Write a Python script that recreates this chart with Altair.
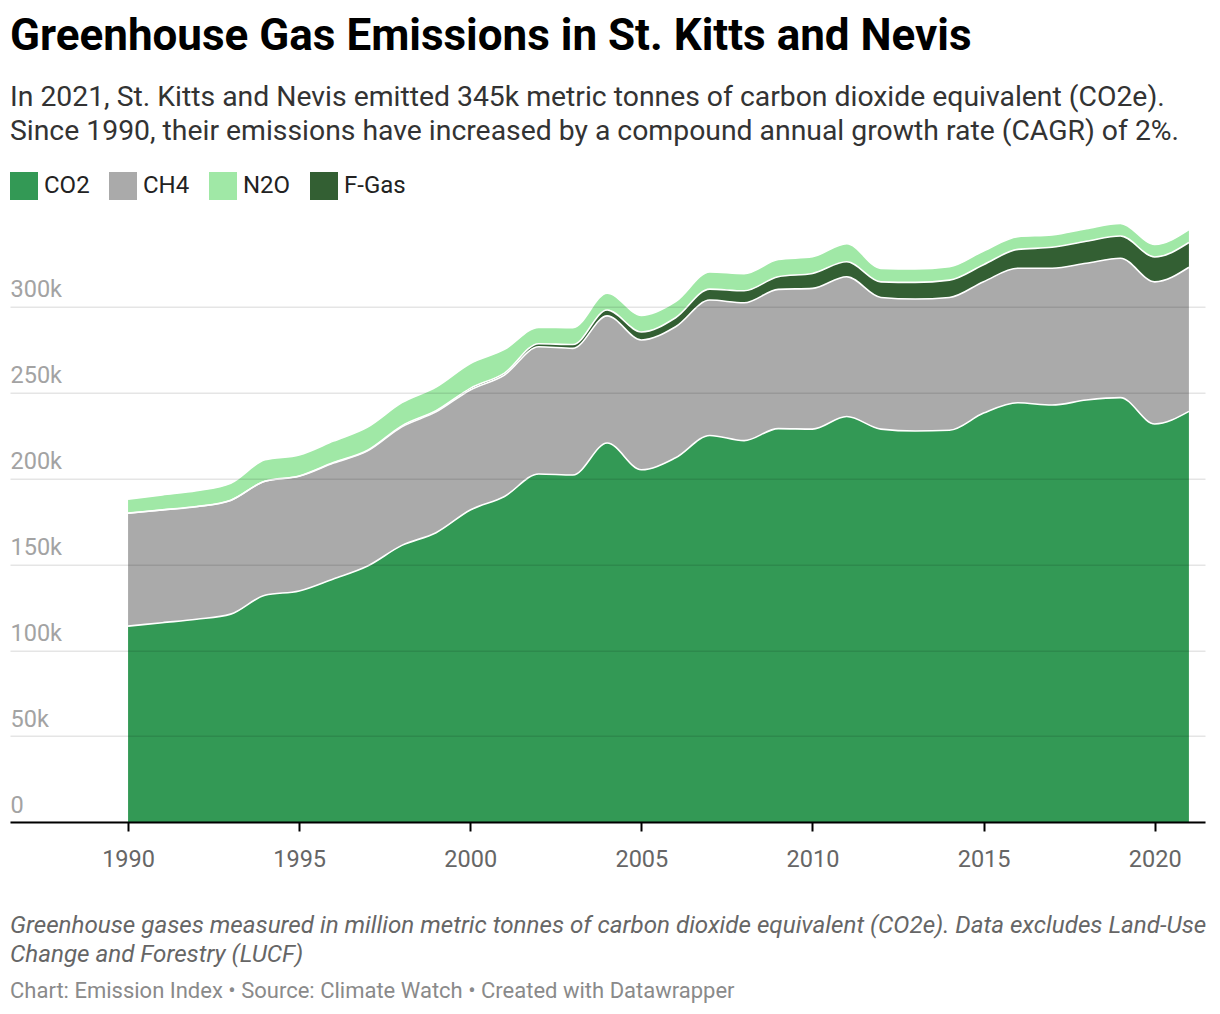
import altair as alt
import pandas as pd

# ---- data (thousand tonnes CO2e) ----
years = list(range(1990, 2022))
co2 = [114.0, 116.0, 118.0, 121.0, 132.0, 134.5, 141.5, 149.0, 161.0, 168.4, 181.6, 189.5,
       202.6, 202.0, 220.6, 205.0, 212.0, 225.0, 222.0, 229.0, 228.7, 236.0, 228.7, 227.6,
       228.0, 238.0, 244.0, 242.7, 245.6, 247.0, 231.7, 239.0]
ch4 = [65.7, 65.6, 65.5, 66.2, 66.3, 66.7, 67.4, 67.0, 69.0, 70.3, 69.9, 70.7,
       74.0, 73.7, 74.0, 75.6, 76.3, 78.8, 80.2, 81.0, 81.9, 81.4, 76.6, 76.8,
       77.3, 76.5, 78.3, 79.6, 79.6, 81.1, 82.7, 83.9]
n2o = [8.1, 8.7, 9.2, 9.9, 12.4, 12.2, 12.5, 13.5, 13.5, 13.8, 14.5, 13.8,
       9.5, 9.8, 9.8, 9.7, 9.4, 10.0, 10.0, 10.0, 9.7, 10.5, 7.8, 7.8,
       7.8, 8.0, 7.4, 7.2, 7.3, 7.3, 7.3, 7.5]
fgas = [0.1, 0.1, 0.1, 0.1, 0.1, 0.2, 0.3, 0.4, 0.6, 0.7, 0.9, 1.1,
        1.8, 2.2, 3.4, 4.6, 5.2, 6.4, 7.0, 7.4, 8.7, 8.7, 9.1, 9.7,
        10.1, 9.9, 11.0, 12.2, 12.8, 13.0, 14.5, 14.4]

gases = ["CO2", "CH4", "N2O", "F-Gas"]
gas_colors = ["#339955", "#aaaaaa", "#a0e8a6", "#335f33"]
stack_rank = {"CO2": 0, "CH4": 1, "F-Gas": 2, "N2O": 3}

x_ticks = [1990, 1995, 2000, 2005, 2010, 2015, 2020]
y_ticks = [0, 50000, 100000, 150000, 200000, 250000, 300000]

title_text = "Greenhouse Gas Emissions in St. Kitts and Nevis"
subtitle_1 = "In 2021, St. Kitts and Nevis emitted 345k metric tonnes of carbon dioxide equivalent (CO2e)."
subtitle_2 = "Since 1990, their emissions have increased by a compound annual growth rate (CAGR) of 2%."
note_1 = "Greenhouse gases measured in million metric tonnes of carbon dioxide equivalent (CO2e). Data excludes Land-Use"
note_2 = "Change and Forestry (LUCF)"
source_text = "Chart: Emission Index \u2022 Source: Climate Watch \u2022 Created with Datawrapper"

rows = []
for g, vals in zip(gases, [co2, ch4, n2o, fgas]):
    for yr, v in zip(years, vals):
        rows.append({"year": yr, "gas": g, "value": v * 1000, "rank": stack_rank[g]})
df = pd.DataFrame(rows)

FONT = "Roboto"
W, H = 1195, 601.3

x_enc = alt.X(
    "year:Q",
    scale=alt.Scale(domain=[1986.55, 2021.47], nice=False, zero=False),
    axis=alt.Axis(values=x_ticks, format="d", title=None, grid=False,
                  domainColor="#000", domainWidth=2, tickColor="#000", tickWidth=2,
                  tickSize=9, labelFontSize=23.5, labelColor="#666666", labelFont=FONT,
                  labelPadding=35, labelBaseline="alphabetic", labelFlush=False, zindex=1),
)
y_enc = alt.Y(
    "top:Q",
    scale=alt.Scale(domain=[0, 350000], nice=False),
    axis=alt.Axis(values=y_ticks, title=None, domain=False, ticks=False,
                  labelExpr="datum.value == 0 ? '0' : format(datum.value / 1000, 'd') + 'k'",
                  tickSize=0, labelPadding=0, labelAlign="left", labelBaseline="alphabetic",
                  labelOffset=-10, labelFontSize=23.5, labelColor="#a3a3a3", labelFont=FONT,
                  gridColor="#000000", gridOpacity=0.1, gridWidth=1.5, zindex=1),
)

base = alt.Chart(df).transform_window(
    top="sum(value)", sort=[alt.SortField("rank")], groupby=["year"], frame=[None, 0]
).transform_calculate(bottom="datum.top - datum.value")

areas = base.mark_area(interpolate="monotone", opacity=1).encode(
    x=x_enc,
    y=y_enc,
    y2="bottom:Q",
    color=alt.Color(
        "gas:N",
        scale=alt.Scale(domain=gases, range=gas_colors),
        legend=alt.Legend(orient="none", legendX=0, legendY=-48.7, direction="horizontal",
                          title=None, symbolType="square", symbolSize=784,
                          symbolStrokeWidth=0, symbolOpacity=1, labelFontSize=24,
                          labelFont=FONT, labelColor="#222222", labelOffset=6,
                          columnPadding=19, padding=0, offset=0),
    ),
)

lines = base.mark_line(interpolate="monotone", color="white", strokeWidth=1.6).encode(
    x=x_enc, y=y_enc, detail="gas:N"
)


def text_layer(txt, y, size, color, weight="normal", style="normal"):
    return alt.Chart(alt.Data(values=[{"t": txt}])).mark_text(
        align="left", baseline="alphabetic", fontSize=size, font=FONT, color=color,
        fontWeight=weight, fontStyle=style,
    ).encode(x=alt.value(0), y=alt.value(y), text="t:N")


texts = [
    text_layer(title_text, -170.7, 44, "#000000", weight="bold"),
    text_layer(subtitle_1, -114.3, 28.35, "#333333"),
    text_layer(subtitle_2, -81.2, 28.35, "#333333"),
    text_layer(note_1, 712.3, 24.2, "#666666", style="italic"),
    text_layer(note_2, 741.0, 24.2, "#666666", style="italic"),
    text_layer(source_text, 777.3, 22, "#8a8a8a"),
]

chart = alt.layer(areas, lines, *texts).properties(
    width=W, height=H,
    padding={"left": 2, "top": 212.7, "right": 5, "bottom": 186},
    autosize=alt.AutoSizeParams(type="none"),
).configure_view(stroke=None)

chart.save("out.html", embed_options={"renderer": "svg", "actions": False})
